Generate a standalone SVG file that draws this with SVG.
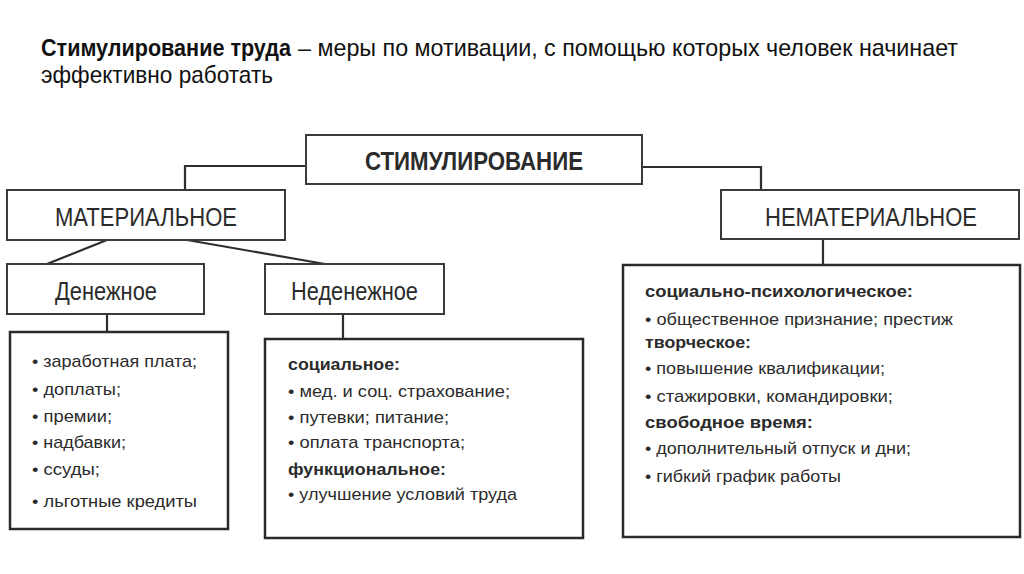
<svg xmlns="http://www.w3.org/2000/svg" width="1024" height="574" viewBox="0 0 1024 574">
<style>
.bg{fill:#ffffff}
.box{fill:#ffffff;stroke:#3a3a3a;stroke-width:2}
.lbox{fill:#ffffff;stroke:#2a2a2a;stroke-width:2.5}
.con{fill:none;stroke:#2e2e2e;stroke-width:2.2}
.t{font-family:"Liberation Sans",Arial,sans-serif;fill:#2b2b2b}
.title{font-family:"Liberation Sans",Arial,sans-serif;fill:#111;font-size:24px}
.hd{font-size:26px}
.it{font-size:17px}
.b{font-weight:bold}
</style>
<rect class="bg" x="0" y="0" width="1024" height="574"/>
<g id="title">
<text class="title b" x="41" y="56" textLength="250" lengthAdjust="spacingAndGlyphs">Стимулирование труда</text>
<text class="title" x="298" y="56" textLength="660" lengthAdjust="spacingAndGlyphs">– меры по мотивации, с помощью которых человек начинает</text>
<text class="title" x="41" y="83" textLength="232" lengthAdjust="spacingAndGlyphs">эффективно работать</text>
</g>
<g id="connectors">
<polyline class="con" points="306,166 185,166 185,190"/>
<polyline class="con" points="642,167 761,167 761,190"/>
<line class="con" x1="107" y1="240" x2="47" y2="264"/>
<line class="con" x1="187" y1="240" x2="325" y2="264"/>
<line class="con" x1="107" y1="314" x2="107" y2="332"/>
<line class="con" x1="343" y1="314" x2="343" y2="339"/>
<line class="con" x1="823" y1="239" x2="823" y2="265"/>
</g>
<g id="stimulirovanie">
<rect class="box" x="306" y="135" width="336" height="49"/>
<text class="t hd b" x="365" y="170" textLength="218" lengthAdjust="spacingAndGlyphs">СТИМУЛИРОВАНИЕ</text>
</g>
<g id="materialnoe">
<rect class="box" x="7" y="190" width="278" height="50"/>
<text class="t hd" x="55" y="226" textLength="182" lengthAdjust="spacingAndGlyphs">МАТЕРИАЛЬНОЕ</text>
</g>
<g id="nematerialnoe">
<rect class="box" x="721" y="190" width="298" height="49"/>
<text class="t hd" x="765" y="226" textLength="212" lengthAdjust="spacingAndGlyphs">НЕМАТЕРИАЛЬНОЕ</text>
</g>
<g id="denezhnoe">
<rect class="box" x="7" y="264" width="197" height="50"/>
<text class="t hd" x="55" y="300" textLength="102" lengthAdjust="spacingAndGlyphs">Денежное</text>
</g>
<g id="nedenezhnoe">
<rect class="box" x="265" y="264" width="179" height="50"/>
<text class="t hd" x="291" y="300" textLength="127" lengthAdjust="spacingAndGlyphs">Неденежное</text>
</g>
<g id="list-denezhnoe">
<rect class="lbox" x="10" y="332" width="218" height="197"/>
<text class="t it" x="32" y="367" textLength="165" lengthAdjust="spacingAndGlyphs">• заработная плата;</text>
<text class="t it" x="32" y="395" textLength="89" lengthAdjust="spacingAndGlyphs">• доплаты;</text>
<text class="t it" x="32" y="422" textLength="80" lengthAdjust="spacingAndGlyphs">• премии;</text>
<text class="t it" x="32" y="448" textLength="94" lengthAdjust="spacingAndGlyphs">• надбавки;</text>
<text class="t it" x="32" y="475" textLength="68" lengthAdjust="spacingAndGlyphs">• ссуды;</text>
<text class="t it" x="32" y="507" textLength="165" lengthAdjust="spacingAndGlyphs">• льготные кредиты</text>
</g>
<g id="list-nedenezhnoe">
<rect class="lbox" x="265" y="339" width="318" height="199"/>
<text class="t it b" x="288" y="370" textLength="112" lengthAdjust="spacingAndGlyphs">социальное:</text>
<text class="t it" x="288" y="397" textLength="222" lengthAdjust="spacingAndGlyphs">• мед. и соц. страхование;</text>
<text class="t it" x="288" y="423" textLength="161" lengthAdjust="spacingAndGlyphs">• путевки; питание;</text>
<text class="t it" x="288" y="448" textLength="177" lengthAdjust="spacingAndGlyphs">• оплата транспорта;</text>
<text class="t it b" x="288" y="475" textLength="158" lengthAdjust="spacingAndGlyphs">функциональное:</text>
<text class="t it" x="288" y="500" textLength="229" lengthAdjust="spacingAndGlyphs">• улучшение условий труда</text>
</g>
<g id="list-nematerialnoe">
<rect class="lbox" x="623" y="265" width="397" height="272"/>
<text class="t it b" x="645" y="297" textLength="268" lengthAdjust="spacingAndGlyphs">социально-психологическое:</text>
<text class="t it" x="645" y="325" textLength="308" lengthAdjust="spacingAndGlyphs">• общественное признание; престиж</text>
<text class="t it b" x="645" y="348" textLength="106" lengthAdjust="spacingAndGlyphs">творческое:</text>
<text class="t it" x="645" y="374" textLength="240" lengthAdjust="spacingAndGlyphs">• повышение квалификации;</text>
<text class="t it" x="645" y="402" textLength="248" lengthAdjust="spacingAndGlyphs">• стажировки, командировки;</text>
<text class="t it b" x="645" y="428" textLength="168" lengthAdjust="spacingAndGlyphs">свободное время:</text>
<text class="t it" x="645" y="454" textLength="266" lengthAdjust="spacingAndGlyphs">• дополнительный отпуск и дни;</text>
<text class="t it" x="645" y="482" textLength="196" lengthAdjust="spacingAndGlyphs">• гибкий график работы</text>
</g>
</svg>
